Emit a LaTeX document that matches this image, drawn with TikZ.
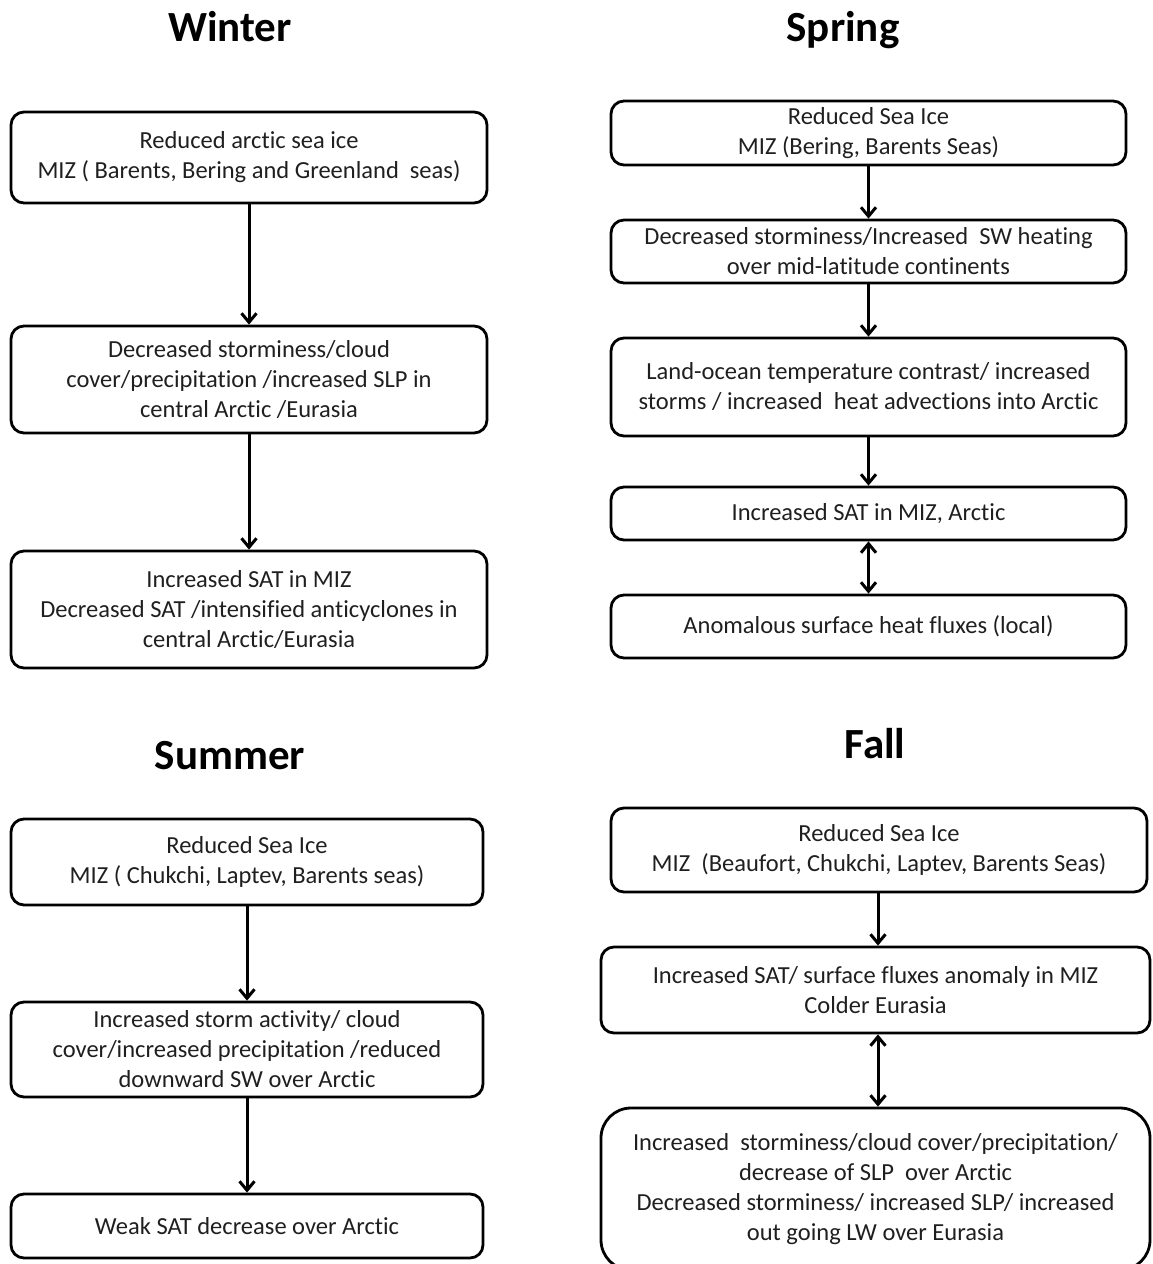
\documentclass[tikz,border=0pt]{standalone}
\usepackage{fontspec}
\setmainfont{Carlito}[Ligatures=NoCommon]
\usetikzlibrary{arrows.meta}
\tikzset{
  box/.style={draw, line width=2.8pt, rounded corners=13pt, align=center, inner sep=0pt,
    font=\fontsize{24.5}{30}\selectfont, text=black!88},
  bigbox/.style={box, rounded corners=30pt},
  ttl/.style={font=\fontsize{43}{46}\selectfont\bfseries, text=black, anchor=base},
  arr/.style={line width=3pt, -{Straight Barb[length=9pt,width=15pt,line width=3pt]}},
  darr/.style={line width=3pt, {Straight Barb[length=9pt,width=15pt,line width=3pt]}-{Straight Barb[length=9pt,width=15pt,line width=3pt]}}
}
\begin{document}
\begin{tikzpicture}[x=1pt,y=-1pt]
\useasboundingbox (0,0) rectangle (1152,1264);
% titles
\node[ttl] (tw) at (230,41) {Winter};
\node[ttl] (ts) at (843,41) {Spring};
\node[ttl] (tu) at (230,769) {Summer};
\node[ttl] (tf) at (875,758) {Fall};
% Winter
\node[box, minimum width=476pt, minimum height=91pt] (w1) at (249,157.5)
  {Reduced arctic sea ice\\MIZ ( Barents, Bering and Greenland\ \ seas)};
\node[box, minimum width=476pt, minimum height=107pt] (w2) at (249,379.5)
  {Decreased storminess/cloud\\cover/precipitation /increased SLP in\\central Arctic /Eurasia};
\node[box, minimum width=476pt, minimum height=117pt] (w3) at (249,609.5)
  {Increased SAT in MIZ\\Decreased SAT /intensified anticyclones in\\central Arctic/Eurasia};
\draw[arr] (w1) -- (w2);
\draw[arr] (w2) -- (w3);
% Spring
\node[box, minimum width=515pt, minimum height=64pt] (s1) at (868.5,133)
  {Reduced Sea Ice\\MIZ (Bering, Barents Seas)};
\node[box, minimum width=515pt, minimum height=63pt] (s2) at (868.5,251.5)
  {Decreased storminess/Increased\ \ SW heating\\over mid-latitude continents};
\node[box, minimum width=515pt, minimum height=98pt] (s3) at (868.5,387)
  {Land-ocean temperature contrast/ increased\\storms / increased\ \ heat advections into Arctic};
\node[box, minimum width=515pt, minimum height=53pt] (s4) at (868.5,513.5)
  {Increased SAT in MIZ, Arctic};
\node[box, minimum width=515pt, minimum height=63pt] (s5) at (868.5,626.5)
  {Anomalous surface heat fluxes (local)};
\draw[arr] (s1) -- (s2);
\draw[arr] (s2) -- (s3);
\draw[arr] (s3) -- (s4);
\draw[darr] (s4) -- (s5);
% Summer
\node[box, minimum width=472pt, minimum height=86pt] (u1) at (247,862)
  {Reduced Sea Ice\\MIZ ( Chukchi, Laptev, Barents seas)};
\node[box, minimum width=472pt, minimum height=95pt] (u2) at (247,1049.5)
  {Increased storm activity/ cloud\\cover/increased precipitation /reduced\\downward SW over Arctic};
\node[box, minimum width=472pt, minimum height=64pt] (u3) at (247,1226)
  {Weak SAT decrease over Arctic};
\draw[arr] (u1) -- (u2);
\draw[arr] (u2) -- (u3);
% Fall
\node[box, minimum width=536pt, minimum height=84pt] (f1) at (879,850)
  {Reduced Sea Ice\\MIZ\ \ (Beaufort, Chukchi, Laptev, Barents Seas)};
\node[box, minimum width=549pt, minimum height=86pt] (f2) at (875.5,990)
  {Increased SAT/ surface fluxes anomaly in MIZ\\Colder Eurasia};
\node[bigbox, minimum width=549pt, minimum height=162pt] (f3) at (875.5,1189)
  {Increased\ \ storminess/cloud cover/precipitation/\\decrease of SLP\ \ over Arctic\\Decreased storminess/ increased SLP/ increased\\out going LW over Eurasia};
\draw[arr] (f1.south -| 878,0) -- (f2.north -| 878,0);
\draw[darr] (f2.south -| 878,0) -- (f3.north -| 878,0);
\end{tikzpicture}
\end{document}
